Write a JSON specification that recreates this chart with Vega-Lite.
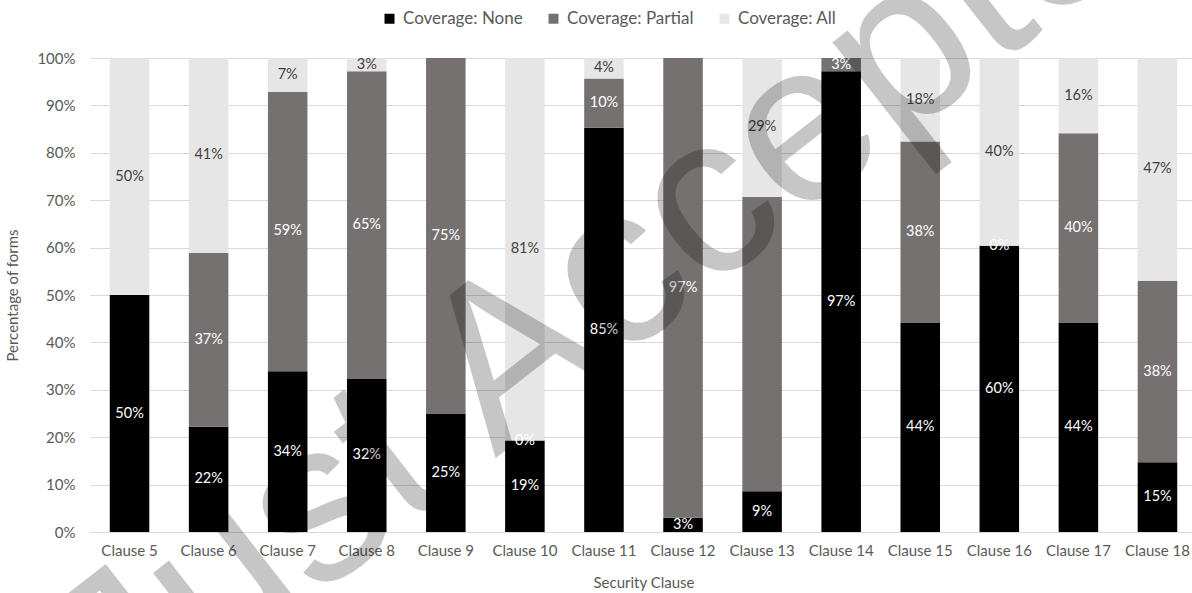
{
  "$schema": "https://vega.github.io/schema/vega-lite/v6.json",
  "width": 1102,
  "height": 474,
  "autosize": {"type": "none"},
  "padding": {"left": 90, "top": 58, "right": 0, "bottom": 61},
  "background": "#ffffff",
  "config": {
    "view": {"stroke": null},
    "font": "Lato",
    "axis": {
      "labelFont": "Lato",
      "titleFont": "Lato",
      "labelFontSize": 15,
      "titleFontSize": 15,
      "labelColor": "#595959",
      "titleColor": "#595959",
      "titleFontWeight": "normal",
      "domain": false,
      "ticks": false
    },
    "legend": {"labelFont": "Lato"}
  },
  "datasets": {
    "coverage": [
      {"clause": "Clause 5", "coverage": "Coverage: None", "rank": 1, "share": 0.5, "labelled": true},
      {"clause": "Clause 5", "coverage": "Coverage: Partial", "rank": 2, "share": 0.0, "labelled": false},
      {"clause": "Clause 5", "coverage": "Coverage: All", "rank": 3, "share": 0.5, "labelled": true},
      {"clause": "Clause 6", "coverage": "Coverage: None", "rank": 1, "share": 0.222, "labelled": true},
      {"clause": "Clause 6", "coverage": "Coverage: Partial", "rank": 2, "share": 0.367, "labelled": true},
      {"clause": "Clause 6", "coverage": "Coverage: All", "rank": 3, "share": 0.411, "labelled": true},
      {"clause": "Clause 7", "coverage": "Coverage: None", "rank": 1, "share": 0.339, "labelled": true},
      {"clause": "Clause 7", "coverage": "Coverage: Partial", "rank": 2, "share": 0.59, "labelled": true},
      {"clause": "Clause 7", "coverage": "Coverage: All", "rank": 3, "share": 0.071, "labelled": true},
      {"clause": "Clause 8", "coverage": "Coverage: None", "rank": 1, "share": 0.323, "labelled": true},
      {"clause": "Clause 8", "coverage": "Coverage: Partial", "rank": 2, "share": 0.649, "labelled": true},
      {"clause": "Clause 8", "coverage": "Coverage: All", "rank": 3, "share": 0.028, "labelled": true},
      {"clause": "Clause 9", "coverage": "Coverage: None", "rank": 1, "share": 0.25, "labelled": true},
      {"clause": "Clause 9", "coverage": "Coverage: Partial", "rank": 2, "share": 0.75, "labelled": true},
      {"clause": "Clause 9", "coverage": "Coverage: All", "rank": 3, "share": 0.0, "labelled": false},
      {"clause": "Clause 10", "coverage": "Coverage: None", "rank": 1, "share": 0.193, "labelled": true},
      {"clause": "Clause 10", "coverage": "Coverage: Partial", "rank": 2, "share": 0.0, "labelled": true},
      {"clause": "Clause 10", "coverage": "Coverage: All", "rank": 3, "share": 0.807, "labelled": true},
      {"clause": "Clause 11", "coverage": "Coverage: None", "rank": 1, "share": 0.853, "labelled": true},
      {"clause": "Clause 11", "coverage": "Coverage: Partial", "rank": 2, "share": 0.104, "labelled": true},
      {"clause": "Clause 11", "coverage": "Coverage: All", "rank": 3, "share": 0.043, "labelled": true},
      {"clause": "Clause 12", "coverage": "Coverage: None", "rank": 1, "share": 0.03, "labelled": true},
      {"clause": "Clause 12", "coverage": "Coverage: Partial", "rank": 2, "share": 0.97, "labelled": true},
      {"clause": "Clause 12", "coverage": "Coverage: All", "rank": 3, "share": 0.0, "labelled": false},
      {"clause": "Clause 13", "coverage": "Coverage: None", "rank": 1, "share": 0.086, "labelled": true},
      {"clause": "Clause 13", "coverage": "Coverage: Partial", "rank": 2, "share": 0.621, "labelled": false},
      {"clause": "Clause 13", "coverage": "Coverage: All", "rank": 3, "share": 0.293, "labelled": true},
      {"clause": "Clause 14", "coverage": "Coverage: None", "rank": 1, "share": 0.972, "labelled": true},
      {"clause": "Clause 14", "coverage": "Coverage: Partial", "rank": 2, "share": 0.028, "labelled": true},
      {"clause": "Clause 14", "coverage": "Coverage: All", "rank": 3, "share": 0.0, "labelled": false},
      {"clause": "Clause 15", "coverage": "Coverage: None", "rank": 1, "share": 0.441, "labelled": true},
      {"clause": "Clause 15", "coverage": "Coverage: Partial", "rank": 2, "share": 0.383, "labelled": true},
      {"clause": "Clause 15", "coverage": "Coverage: All", "rank": 3, "share": 0.176, "labelled": true},
      {"clause": "Clause 16", "coverage": "Coverage: None", "rank": 1, "share": 0.604, "labelled": true},
      {"clause": "Clause 16", "coverage": "Coverage: Partial", "rank": 2, "share": 0.0, "labelled": true},
      {"clause": "Clause 16", "coverage": "Coverage: All", "rank": 3, "share": 0.396, "labelled": true},
      {"clause": "Clause 17", "coverage": "Coverage: None", "rank": 1, "share": 0.441, "labelled": true},
      {"clause": "Clause 17", "coverage": "Coverage: Partial", "rank": 2, "share": 0.4, "labelled": true},
      {"clause": "Clause 17", "coverage": "Coverage: All", "rank": 3, "share": 0.159, "labelled": true},
      {"clause": "Clause 18", "coverage": "Coverage: None", "rank": 1, "share": 0.147, "labelled": true},
      {"clause": "Clause 18", "coverage": "Coverage: Partial", "rank": 2, "share": 0.383, "labelled": true},
      {"clause": "Clause 18", "coverage": "Coverage: All", "rank": 3, "share": 0.47, "labelled": true}
    ],
    "stamp": [
      {"clause": "Clause 12", "level": 0.468, "text": "Just Accepted"}
    ]
  },
  "encoding": {
    "x": {
      "field": "clause",
      "type": "nominal",
      "scale": {
        "domain": ["Clause 5", "Clause 6", "Clause 7", "Clause 8", "Clause 9", "Clause 10", "Clause 11", "Clause 12", "Clause 13", "Clause 14", "Clause 15", "Clause 16", "Clause 17", "Clause 18"],
        "range": [0, 1107],
        "paddingInner": 0.5,
        "paddingOuter": 0.25
      },
      "axis": {"labelAngle": 0, "labelPadding": 11, "titlePadding": 17},
      "title": "Security Clause"
    }
  },
  "layer": [
    {
      "data": {"name": "coverage"},
      "mark": {"type": "bar"},
      "encoding": {
        "y": {
          "field": "share",
          "type": "quantitative",
          "stack": "zero",
          "scale": {"domain": [0, 1], "nice": false},
          "axis": {
            "values": [0, 0.1, 0.2, 0.3, 0.4, 0.5, 0.6, 0.7, 0.8, 0.9, 1],
            "format": ".0%",
            "grid": true,
            "gridColor": "#d9d9d9",
            "gridWidth": 1,
            "labelPadding": 15,
            "titlePadding": 16
          },
          "title": "Percentage of forms"
        },
        "color": {
          "field": "coverage",
          "type": "nominal",
          "scale": {
            "domain": ["Coverage: None", "Coverage: Partial", "Coverage: All"],
            "range": ["#000000", "#767171", "#e7e6e6"]
          },
          "legend": {
            "orient": "none",
            "direction": "horizontal",
            "legendX": 291,
            "legendY": -48,
            "title": null,
            "padding": 0,
            "symbolType": "square",
            "symbolSize": 100,
            "symbolStrokeWidth": 0,
            "labelFontSize": 17,
            "labelColor": "#595959",
            "labelOffset": 5,
            "columnPadding": 22
          }
        },
        "order": {"field": "rank", "type": "quantitative"}
      }
    },
    {
      "data": {"name": "coverage"},
      "transform": [
        {"stack": "share", "groupby": ["clause"], "sort": [{"field": "rank"}], "as": ["lo", "hi"]},
        {"filter": "datum.labelled"},
        {"fold": ["lo", "hi"], "as": ["edge", "pos"]},
        {"aggregate": [{"op": "mean", "field": "pos", "as": "mid"}], "groupby": ["clause", "coverage", "share"]}
      ],
      "mark": {"type": "text", "font": "Lato", "fontSize": 14.5, "baseline": "middle", "align": "center"},
      "encoding": {
        "y": {
          "field": "mid",
          "type": "quantitative",
          "axis": {
            "values": [0, 0.1, 0.2, 0.3, 0.4, 0.5, 0.6, 0.7, 0.8, 0.9, 1],
            "format": ".0%",
            "grid": true,
            "gridColor": "#d9d9d9",
            "gridWidth": 1,
            "labelPadding": 15,
            "titlePadding": 16
          },
          "title": "Percentage of forms"
        },
        "text": {"field": "share", "type": "quantitative", "format": ".0%"},
        "color": {
          "condition": {"test": "datum.coverage === 'Coverage: All'", "value": "#404040"},
          "value": "#ffffff"
        }
      }
    },
    {
      "data": {"name": "stamp"},
      "mark": {
        "type": "text",
        "font": "Liberation Sans",
        "fontSize": 228,
        "angle": -38,
        "align": "center",
        "baseline": "alphabetic",
        "color": "#000000",
        "opacity": 0.22
      },
      "encoding": {
        "x": {"field": "clause", "type": "nominal", "bandPosition": 0.55},
        "y": {
          "field": "level",
          "type": "quantitative",
          "axis": {
            "values": [0, 0.1, 0.2, 0.3, 0.4, 0.5, 0.6, 0.7, 0.8, 0.9, 1],
            "format": ".0%",
            "grid": true,
            "gridColor": "#d9d9d9",
            "gridWidth": 1,
            "labelPadding": 15,
            "titlePadding": 16
          },
          "title": "Percentage of forms"
        },
        "text": {"field": "text"}
      }
    }
  ]
}
